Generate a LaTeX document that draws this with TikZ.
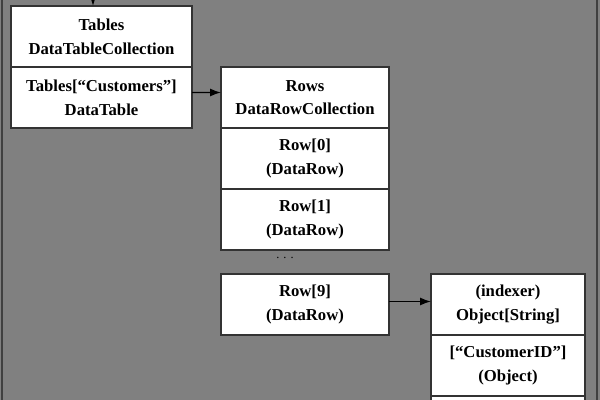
\documentclass[tikz,border=0pt]{standalone}
\usepackage{fontspec}
\setmainfont{Liberation Serif}
\usepackage{tikz}
\usetikzlibrary{calc, positioning, arrows.meta}

\tikzset{
  cell/.style={draw=black!80, fill=white, line width=0.6pt, inner sep=0pt, outer sep=0pt,
    minimum height=1.22cm, align=center, font=\fontsize{9.5}{13.5}\selectfont\bfseries},
  wideA/.style={cell, minimum width=3.62cm},
  wideB/.style={cell, minimum width=3.36cm},
  wideD/.style={cell, minimum width=3.08cm},
}

\begin{document}
\begin{tikzpicture}[>={Latex[length=2.2mm, width=1.6mm]}]
  \useasboundingbox (0,0) rectangle (12,-8);
  \clip (0,0) rectangle (12,-8);
  \fill [black!50] (0,0) rectangle (12,-8);
  \draw [black!75, line width=1pt] (0.04,0) -- (0.04,-8);
  \draw [black!75, line width=1pt] (11.94,0) -- (11.94,-8);

  % tables
  \node [wideA] (tables) at (2.03,-0.73) {Tables\\DataTableCollection};
  \node [wideA, below=0pt of tables] (customers) {Tables[“Customers”]\\DataTable};

  % rows
  \node [wideB] (rows) at (6.1,-1.95) {Rows\\DataRowCollection};
  \node [wideB, below=0pt of rows] (row0) {Row[0]\\(DataRow)};
  \node [wideB, below=0pt of row0] (row1) {Row[1]\\(DataRow)};
  \node [font=\scriptsize] (dots) at (5.7,-5.15) {. . .};
  \node [wideB] (row9) at (6.1,-6.09) {Row[9]\\(DataRow)};

  % indexer
  \node [wideD] (indexer) at (10.16,-6.09) {(indexer)\\Object[String]};
  \node [wideD, below=0pt of indexer] (custid) {[“CustomerID”]\\(Object)};
  \node [wideD, below=0pt of custid] (next) {};

  \coordinate (top) at (1.86,0.2);
  \draw [->, thick] (top) -- (top |- tables.north);
  \draw [->, thick] ([yshift=0.1cm]customers.east) -- ([yshift=0.1cm]rows.west);
  \draw [->, thick] ([yshift=0.06cm]row9.east) -- ([yshift=0.06cm]indexer.west);
\end{tikzpicture}
\end{document}
